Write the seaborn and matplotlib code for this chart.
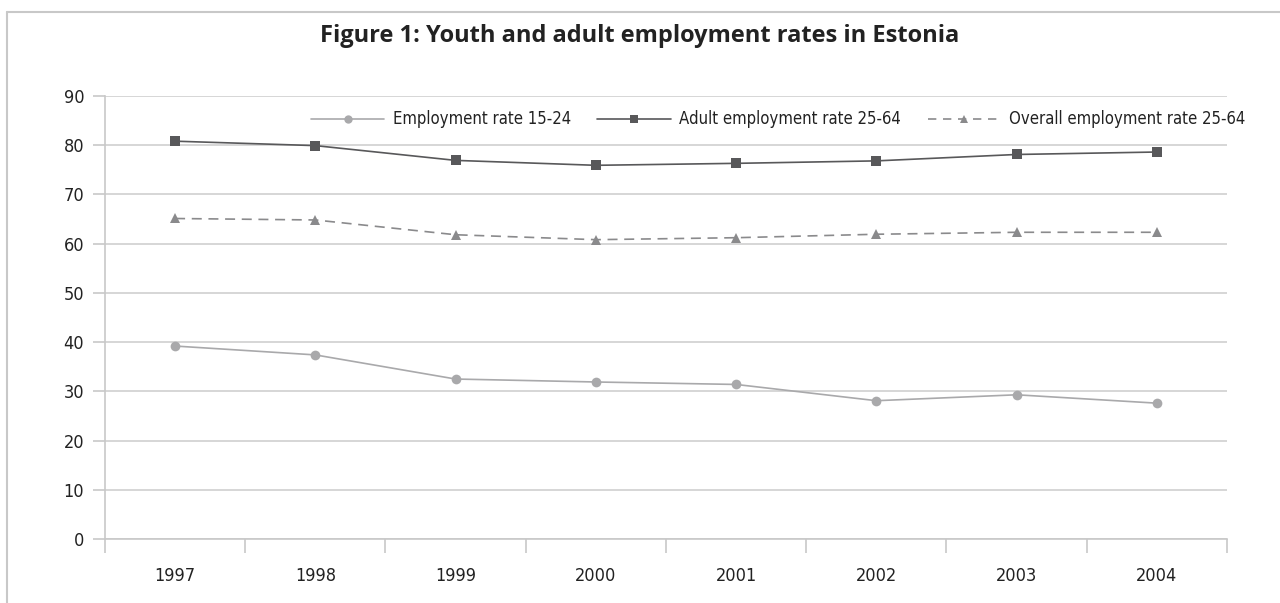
import matplotlib
matplotlib.use("Agg")
import matplotlib.pyplot as plt
import pandas as pd
import seaborn as sns
from matplotlib.lines import Line2D
from matplotlib.ticker import MultipleLocator, FixedLocator

# Data
years = ["1997", "1998", "1999", "2000", "2001", "2002", "2003", "2004"]
youth = [39.2, 37.4, 32.5, 31.9, 31.4, 28.1, 29.3, 27.6]
adult = [80.8, 79.9, 76.9, 75.9, 76.3, 76.8, 78.1, 78.6]
overall = [65.1, 64.8, 61.8, 60.8, 61.2, 61.9, 62.3, 62.3]

labels = ["Employment rate 15-24", "Adult employment rate 25-64", "Overall employment rate 25-64"]

df = pd.DataFrame({"year": years, labels[0]: youth, labels[1]: adult, labels[2]: overall})
df_long = df.melt(id_vars="year", var_name="series", value_name="rate")

sns.set_style("white")
plt.rcParams['font.family'] = ['Liberation Sans Narrow', 'DejaVu Sans']
plt.rcParams['font.stretch'] = 'condensed'

fig = plt.figure(figsize=(12.8, 6.03), dpi=100)
ax = fig.add_axes([0.082, 0.106, 0.8766, 0.735])

colors = {labels[0]: "#a9a9ab", labels[1]: "#58585a", labels[2]: "#8a8a8c"}
markers = {labels[0]: "o", labels[1]: "s", labels[2]: "^"}
dashes = {labels[0]: "", labels[1]: "", labels[2]: (6, 4)}

sns.lineplot(data=df_long, x="year", y="rate", hue="series", style="series",
             palette=colors, markers=markers, dashes=dashes, markersize=7,
             markeredgewidth=0, linewidth=1.2, ax=ax, legend=False)

ax.set_ylim(0, 90)
ax.set_xlim(-0.5, len(years) - 0.5)
ax.yaxis.set_major_locator(MultipleLocator(10))
ax.grid(axis="y", color="#d0d0d0", linewidth=1.2)
ax.set_axisbelow(True)

for s in ["top", "right"]:
    ax.spines[s].set_visible(False)
ax.spines["left"].set_color("#c8c8c8")
ax.spines["bottom"].set_color("#c8c8c8")
ax.spines["left"].set_linewidth(1.2)
ax.spines["bottom"].set_linewidth(1.2)

ax.xaxis.set_minor_locator(FixedLocator([i - 0.5 for i in range(len(years) + 1)]))
ax.tick_params(axis="x", which="major", bottom=True, length=0, pad=20, labelsize=13, labelcolor="#222222")
ax.tick_params(axis="x", which="minor", bottom=True, length=10, width=1.2, color="#c8c8c8", direction="out")
ax.tick_params(axis="y", left=True, length=9, width=1.2, color="#c8c8c8", labelsize=13,
               labelcolor="#222222", pad=6, direction="out")
ax.set_xlabel("")
ax.set_ylabel("")

handles = [
    Line2D([], [], color=colors[labels[0]], marker="o", markersize=6, markeredgewidth=0, linewidth=1.2),
    Line2D([], [], color=colors[labels[1]], marker="s", markersize=6, markeredgewidth=0, linewidth=1.2),
    Line2D([], [], color=colors[labels[2]], marker="^", markersize=6, markeredgewidth=0, linewidth=1.2,
           linestyle=(0, (5, 4))),
]
ax.legend(handles, labels, ncol=3, frameon=False, fontsize=12, handlelength=4.4,
          columnspacing=1.6, handletextpad=0.5, loc="center",
          bbox_to_anchor=(0.600, 0.947), labelcolor="#222222")

fig.text(0.5, 0.94, "Figure 1: Youth and adult employment rates in Estonia",
         ha="center", va="center", fontsize=17, fontweight="bold", fontstretch="normal",
         family=["Open Sans", "DejaVu Sans"], color="#222222")

# light frame round the figure (top and left edges visible)
fig.add_artist(Line2D([0.0055, 1.0], [0.98, 0.98], color="#c8c8c8", linewidth=1.5, transform=fig.transFigure))
fig.add_artist(Line2D([0.0055, 0.0055], [0.0, 0.98], color="#c8c8c8", linewidth=1.5, transform=fig.transFigure))

fig.savefig("out.png", dpi=100)
